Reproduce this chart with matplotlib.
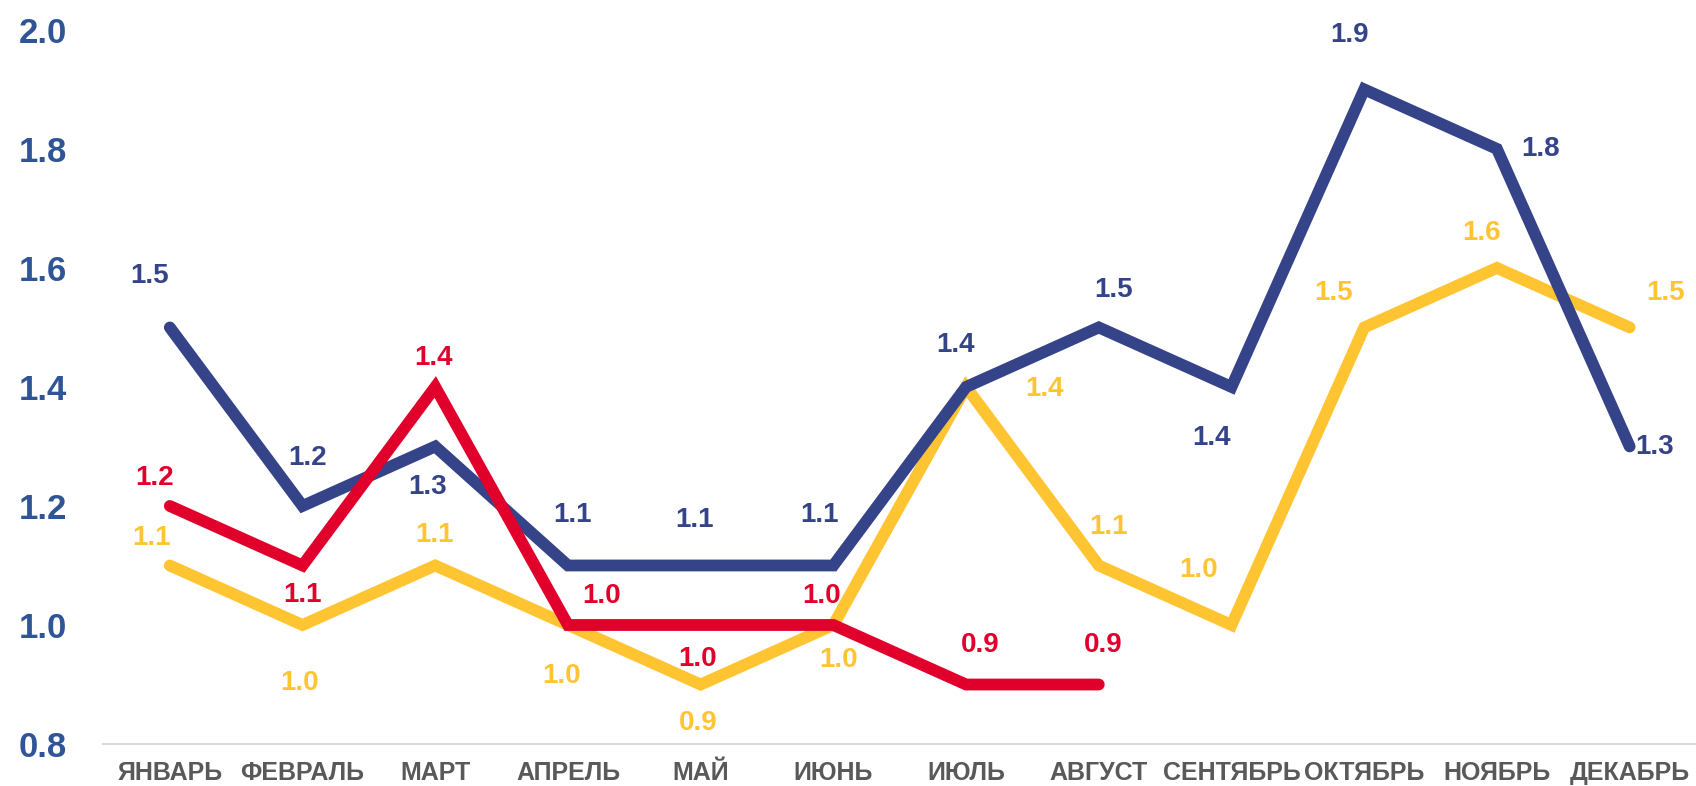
import matplotlib.pyplot as plt

months = ['ЯНВАРЬ', 'ФЕВРАЛЬ', 'МАРТ', 'АПРЕЛЬ', 'МАЙ', 'ИЮНЬ',
          'ИЮЛЬ', 'АВГУСТ', 'СЕНТЯБРЬ', 'ОКТЯБРЬ', 'НОЯБРЬ', 'ДЕКАБРЬ']
blue_values = [1.5, 1.2, 1.3, 1.1, 1.1, 1.1, 1.4, 1.5, 1.4, 1.9, 1.8, 1.3]
yellow_values = [1.1, 1.0, 1.1, 1.0, 0.9, 1.0, 1.4, 1.1, 1.0, 1.5, 1.6, 1.5]
red_values = [1.2, 1.1, 1.4, 1.0, 1.0, 1.0, 0.9, 0.9]
y_ticks = [0.8, 1.0, 1.2, 1.4, 1.6, 1.8, 2.0]

# label offsets in pixels (dx, dy), dy positive = up
blue_offsets = [(-20, 51), (5, 48), (-8, -41), (5, 50), (-6, 45), (-14, 50),
                (-11, 42), (15, 37), (-20, -51), (-15, 54), (44, 0), (25, -1)]
yellow_offsets = [(-18, 27), (-3, -58), (-1, 30), (-6, -51), (-2, -38), (5, -35),
                  (78, -2), (10, 38), (-33, 55), (-31, 34), (-15, 35), (36, 34)]
red_offsets = [(-15, 28), (0, -30), (-2, 29), (34, 29), (-3, -34), (-12, 29),
               (14, 40), (4, 40)]

BLUE = '#354389'
YELLOW = '#FFC431'
RED = '#E1002B'
TICK_BLUE = '#2F5597'
GRAY = '#595959'

plt.rcParams['font.family'] = ['Liberation Sans', 'DejaVu Sans']


def draw_series(ax, values, color, offsets, z):
    xs = list(range(len(values)))
    ax.plot(xs, values, color=color, linewidth=8.5, solid_capstyle='round',
            solid_joinstyle='miter', zorder=z)
    for x, v, (dx, dy) in zip(xs, values, offsets):
        ax.annotate(f'{v:.1f}', (x, v), xytext=(dx, dy), textcoords='offset pixels',
                    ha='center', va='center', fontsize=20, fontweight='bold',
                    color=color, zorder=z + 5)


fig = plt.figure(figsize=(16.96, 7.86), dpi=100)
ax = fig.add_axes([0.061, 0.0534, 0.939, 0.9086])

draw_series(ax, yellow_values, YELLOW, yellow_offsets, 2)
draw_series(ax, blue_values, BLUE, blue_offsets, 3)
draw_series(ax, red_values, RED, red_offsets, 4)

ax.set_xlim(-0.5, 11.5)
ax.set_ylim(0.8, 2.0)
ax.set_xticks(range(len(months)))
ax.set_xticklabels(months, fontsize=18, fontweight='bold', color=GRAY)
ax.set_yticks(y_ticks)
ax.set_yticklabels([f'{t:.1f}' for t in y_ticks], fontsize=25, fontweight='bold',
                   color=TICK_BLUE)
ax.tick_params(axis='both', length=0)
ax.tick_params(axis='x', pad=12)
ax.tick_params(axis='y', pad=26)

for side in ['top', 'right', 'left']:
    ax.spines[side].set_visible(False)
ax.spines['bottom'].set_color('#D9D9D9')
ax.spines['bottom'].set_linewidth(1.5)
ax.patch.set_visible(False)

plt.savefig('out.png', dpi=100)
